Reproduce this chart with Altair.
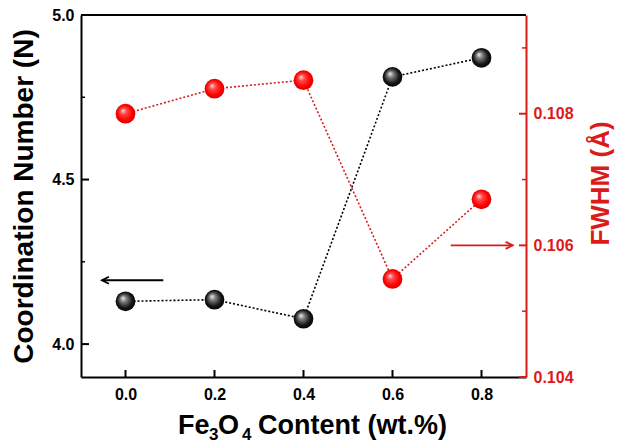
import altair as alt
import pandas as pd

# ---- data ----
content = [0.0, 0.2, 0.4, 0.6, 0.8]
coord_number = [4.130, 4.135, 4.077, 4.812, 4.870]
fwhm = [0.10800, 0.10838, 0.10851, 0.10549, 0.10670]

x_ticks = [0.0, 0.2, 0.4, 0.6, 0.8]
left_major = [4.0, 4.5, 5.0]
left_minor = [4.25, 4.75]
right_major = [0.104, 0.106, 0.108]
right_minor = [0.105, 0.107, 0.109]

# annotation arrows (data units)
arrow_left_x = [0.085, -0.053]
arrow_left_y = [4.194, 4.194]
arrow_right_x = [0.731, 0.870]
arrow_right_y = [0.106, 0.106]

W, H = 445, 362
FONT = "Liberation Sans"
RED = "#dd1a1a"

df = pd.DataFrame({"content": content, "cn": coord_number, "fwhm": fwhm})
xs = alt.Scale(domain=[-0.1, 0.9], nice=False, zero=False)
yl = alt.Scale(domain=[3.9, 5.0], nice=False, zero=False)
yr = alt.Scale(domain=[0.104, 0.1095], nice=False, zero=False)

x_axis = alt.Axis(values=x_ticks, format=".1f", ticks=False, grid=False, title=None,
                  domainColor="black", domainWidth=2, labelPadding=9,
                  labelColor="black")
left_axis = alt.Axis(values=left_major, format=".1f", ticks=False, grid=False,
                     title="Coordination Number (N)", titleFontSize=28,
                     titlePadding=13, domainColor="black", domainWidth=2,
                     labelPadding=7, labelColor="black", titleColor="black")
right_axis = alt.Axis(values=right_major, format=".3f", ticks=False, grid=False,
                      title="FWHM (Å)", titleFontSize=26, titleColor=RED,
                      titleAngle=270, titleY=168, titlePadding=40,
                      domainColor=RED, domainWidth=2, labelPadding=7,
                      labelColor=RED)

black_grad = alt.RadialGradient(
    gradient="radial", x1=0.36, y1=0.33, r1=0.0, x2=0.5, y2=0.5, r2=0.55,
    stops=[alt.GradientStop(offset=0.0, color="#f2f2f2"),
           alt.GradientStop(offset=0.3, color="#7a7a7a"),
           alt.GradientStop(offset=0.7, color="#151515"),
           alt.GradientStop(offset=1.0, color="#000000")])
red_grad = alt.RadialGradient(
    gradient="radial", x1=0.36, y1=0.33, r1=0.0, x2=0.5, y2=0.5, r2=0.55,
    stops=[alt.GradientStop(offset=0.0, color="#ffe6e6"),
           alt.GradientStop(offset=0.28, color="#ff4a4a"),
           alt.GradientStop(offset=0.7, color="#ff0000"),
           alt.GradientStop(offset=1.0, color="#d00000")])

# ---------- left (black) layer ----------
b_line = alt.Chart(df).mark_line(color="black", strokeDash=[2, 2], strokeWidth=1.6).encode(
    x=alt.X("content:Q", scale=xs, axis=x_axis),
    y=alt.Y("cn:Q", scale=yl, axis=left_axis))
b_pts = alt.Chart(df).mark_point(filled=True, fill=black_grad, size=390, opacity=1,
                                 strokeOpacity=0, shape="circle").encode(
    x=alt.X("content:Q", scale=xs),
    y=alt.Y("cn:Q", scale=yl))

lmaj = alt.Chart(pd.DataFrame({"v": left_major})).mark_rule(color="black", strokeWidth=2).encode(
    y=alt.Y("v:Q", scale=yl), x=alt.value(0), x2=alt.value(8))
lmin = alt.Chart(pd.DataFrame({"v": left_minor})).mark_rule(color="black", strokeWidth=1.5).encode(
    y=alt.Y("v:Q", scale=yl), x=alt.value(0), x2=alt.value(4))
xt = alt.Chart(pd.DataFrame({"v": x_ticks})).mark_rule(color="black", strokeWidth=2).encode(
    x=alt.X("v:Q", scale=xs), y=alt.value(H), y2=alt.value(H - 7))
top = alt.Chart(pd.DataFrame({"a": [0]})).mark_rule(color="black", strokeWidth=2).encode(
    x=alt.value(0), x2=alt.value(W), y=alt.value(0))

al = pd.DataFrame({"x": arrow_left_x, "y": arrow_left_y})
al_line = alt.Chart(al).mark_line(color="black", strokeWidth=1.8).encode(
    x=alt.X("x:Q", scale=xs), y=alt.Y("y:Q", scale=yl))
al_head = alt.Chart(al.iloc[[1]]).mark_point(shape="M2,-1L0,0L2,1", size=49, filled=False,
                                             color="black", strokeWidth=1.8, opacity=1).encode(
    x=alt.X("x:Q", scale=xs), y=alt.Y("y:Q", scale=yl))

# x-axis title with subscripts
def txt(s, px, py, size):
    return alt.Chart(pd.DataFrame({"a": [0]})).mark_text(
        text=s, align="left", baseline="alphabetic", font=FONT, fontWeight="bold",
        fontSize=size, color="black").encode(x=alt.value(px), y=alt.value(py))

xtitle = [txt("Fe", 97, 419, 27), txt("3", 128, 425, 17), txt("O", 137, 419, 27),
          txt("4", 161, 425, 17), txt("Content (wt.%)", 177, 419, 27)]

left = alt.layer(b_line, lmaj, lmin, xt, top, al_line, al_head, b_pts, *xtitle)

# ---------- right (red) layer ----------
r_line = alt.Chart(df).mark_line(color="#d42020", strokeDash=[2, 2], strokeWidth=1.6).encode(
    x=alt.X("content:Q", scale=xs),
    y=alt.Y("fwhm:Q", scale=yr, axis=right_axis))
r_pts = alt.Chart(df).mark_point(filled=True, fill=red_grad, size=390, opacity=1,
                                 strokeOpacity=0, shape="circle").encode(
    x=alt.X("content:Q", scale=xs),
    y=alt.Y("fwhm:Q", scale=yr))
rmaj = alt.Chart(pd.DataFrame({"v": right_major})).mark_rule(color=RED, strokeWidth=2).encode(
    y=alt.Y("v:Q", scale=yr), x=alt.value(W), x2=alt.value(W - 7))
rmin = alt.Chart(pd.DataFrame({"v": right_minor})).mark_rule(color=RED, strokeWidth=1.5).encode(
    y=alt.Y("v:Q", scale=yr), x=alt.value(W), x2=alt.value(W - 4))
ar = pd.DataFrame({"x": arrow_right_x, "y": arrow_right_y})
ar_line = alt.Chart(ar).mark_line(color=RED, strokeWidth=1.8).encode(
    x=alt.X("x:Q", scale=xs), y=alt.Y("y:Q", scale=yr))
ar_head = alt.Chart(ar.iloc[[1]]).mark_point(shape="M-2,-1L0,0L-2,1", size=49, filled=False,
                                             color=RED, strokeWidth=1.8, opacity=1).encode(
    x=alt.X("x:Q", scale=xs), y=alt.Y("y:Q", scale=yr))

right = alt.layer(r_line, rmaj, rmin, ar_line, ar_head, r_pts)

chart = alt.layer(left, right).resolve_scale(y="independent").properties(
    width=W, height=H,
    autosize=alt.AutoSizeParams(type="none"),
    padding={"left": 73, "top": 7, "right": 90, "bottom": 66},
).configure_view(stroke=None).configure_axis(
    labelFont=FONT, labelFontWeight="bold", labelFontSize=16,
    titleFont=FONT, titleFontWeight="bold",
)

chart.save("out.html", embed_options={"renderer": "svg", "actions": False})
